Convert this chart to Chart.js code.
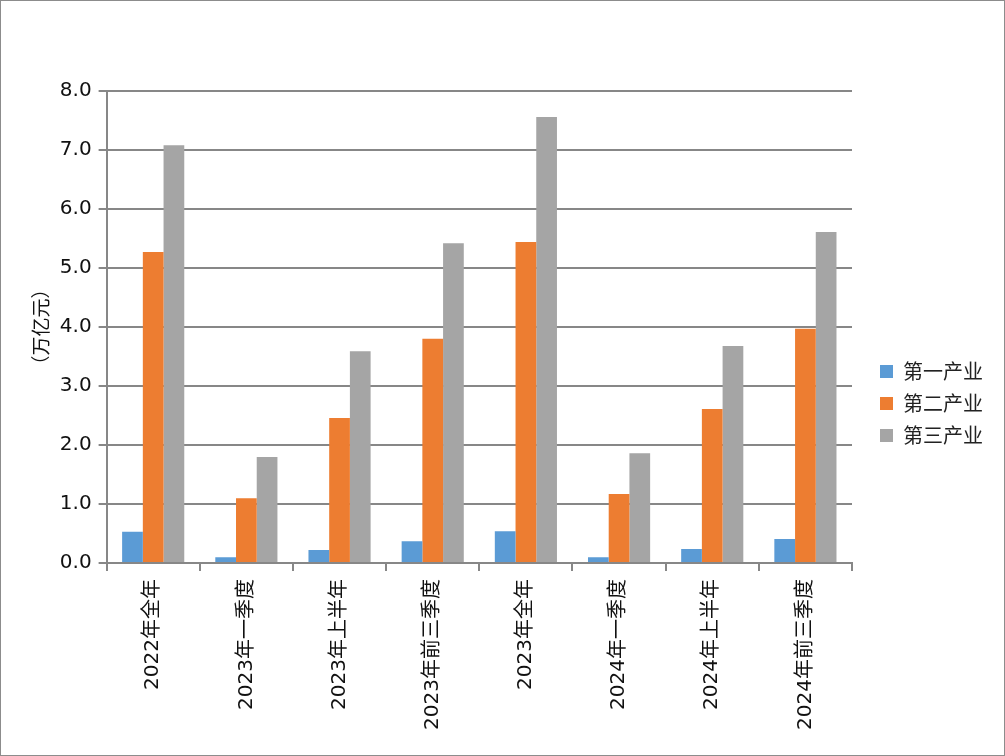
<!DOCTYPE html>
<html>
<head>
<meta charset="utf-8">
<script src="https://cdn.jsdelivr.net/npm/chart.js@4"></script>
<style>
  html, body { margin: 0; padding: 0; background: #fff; }
  #wrap { width: 1005px; height: 756px; }
</style>
</head>
<body>
<div id="wrap"><canvas id="chart" width="1005" height="756"></canvas></div>
<script>
const categories = ["2022年全年", "2023年一季度", "2023年上半年", "2023年前三季度",
  "2023年全年", "2024年一季度", "2024年上半年", "2024年前三季度"];
const primary = [0.53, 0.10, 0.22, 0.37, 0.54, 0.10, 0.24, 0.41];
const secondary = [5.27, 1.10, 2.46, 3.80, 5.44, 1.17, 2.61, 3.97];
const tertiary = [7.08, 1.80, 3.59, 5.42, 7.56, 1.86, 3.68, 5.61];
const seriesNames = ["第一产业", "第二产业", "第三产业"];
const yTitle = "（万亿元）";

const FONT = "'DejaVu Sans', 'Noto Sans CJK SC', sans-serif";
const gridColor = "#878787";

// thin grey frame round the whole picture
const framePlugin = {
  id: "frame",
  afterDraw(chart) {
    const ctx = chart.ctx;
    ctx.save();
    ctx.strokeStyle = "#8c8c8c";
    ctx.lineWidth = 1;
    ctx.strokeRect(0.5, 0.5, chart.width - 1, chart.height - 1);
    ctx.restore();
  }
};

// push the legend a bit away from the plot, like the original
const legendShift = {
  id: "legendShift",
  afterLayout(chart) {
    const lg = chart.legend;
    if (lg) {
      lg.left += 16;
      lg.right += 16;
      lg.top -= 11;
      lg.bottom -= 11;
    }
  }
};

const ctx = document.getElementById("chart").getContext("2d");
new Chart(ctx, {
  type: "bar",
  data: {
    labels: categories,
    datasets: [
      { label: seriesNames[0], data: primary, backgroundColor: "#5B9BD5" },
      { label: seriesNames[1], data: secondary, backgroundColor: "#ED7D31" },
      { label: seriesNames[2], data: tertiary, backgroundColor: "#A5A5A5" }
    ]
  },
  options: {
    responsive: false,
    animation: false,
    datasets: { bar: { categoryPercentage: 0.667, barPercentage: 1.0 } },
    layout: { padding: { top: 91, left: 29, right: 28, bottom: 18 } },
    plugins: {
      legend: {
        position: "right",
        align: "center",
        labels: {
          boxWidth: 13,
          boxHeight: 13,
          padding: 12,
          color: "#222",
          font: { family: "'Noto Sans CJK SC', sans-serif", size: 20 }
        }
      },
      tooltip: { enabled: false }
    },
    scales: {
      x: {
        grid: { display: true, drawOnChartArea: false, color: gridColor, lineWidth: 2, tickLength: 8, offset: true },
        border: { color: gridColor, width: 2 },
        ticks: {
          maxRotation: 90, minRotation: 90,
          color: "#111",
          padding: 8,
          font: { family: FONT, size: 20 }
        }
      },
      y: {
        min: 0, max: 8,
        grid: { color: gridColor, lineWidth: 2, tickLength: 8 },
        border: { color: gridColor, width: 2 },
        ticks: {
          stepSize: 1,
          color: "#111",
          padding: 7,
          font: { family: FONT, size: 20 },
          callback: v => v.toFixed(1)
        },
        title: {
          display: true,
          text: yTitle,
          color: "#111",
          padding: { top: 0, bottom: 1 },
          font: { family: "'Noto Sans CJK SC', sans-serif", size: 19 }
        }
      }
    }
  },
  plugins: [framePlugin, legendShift]
});
</script>
</body>
</html>
